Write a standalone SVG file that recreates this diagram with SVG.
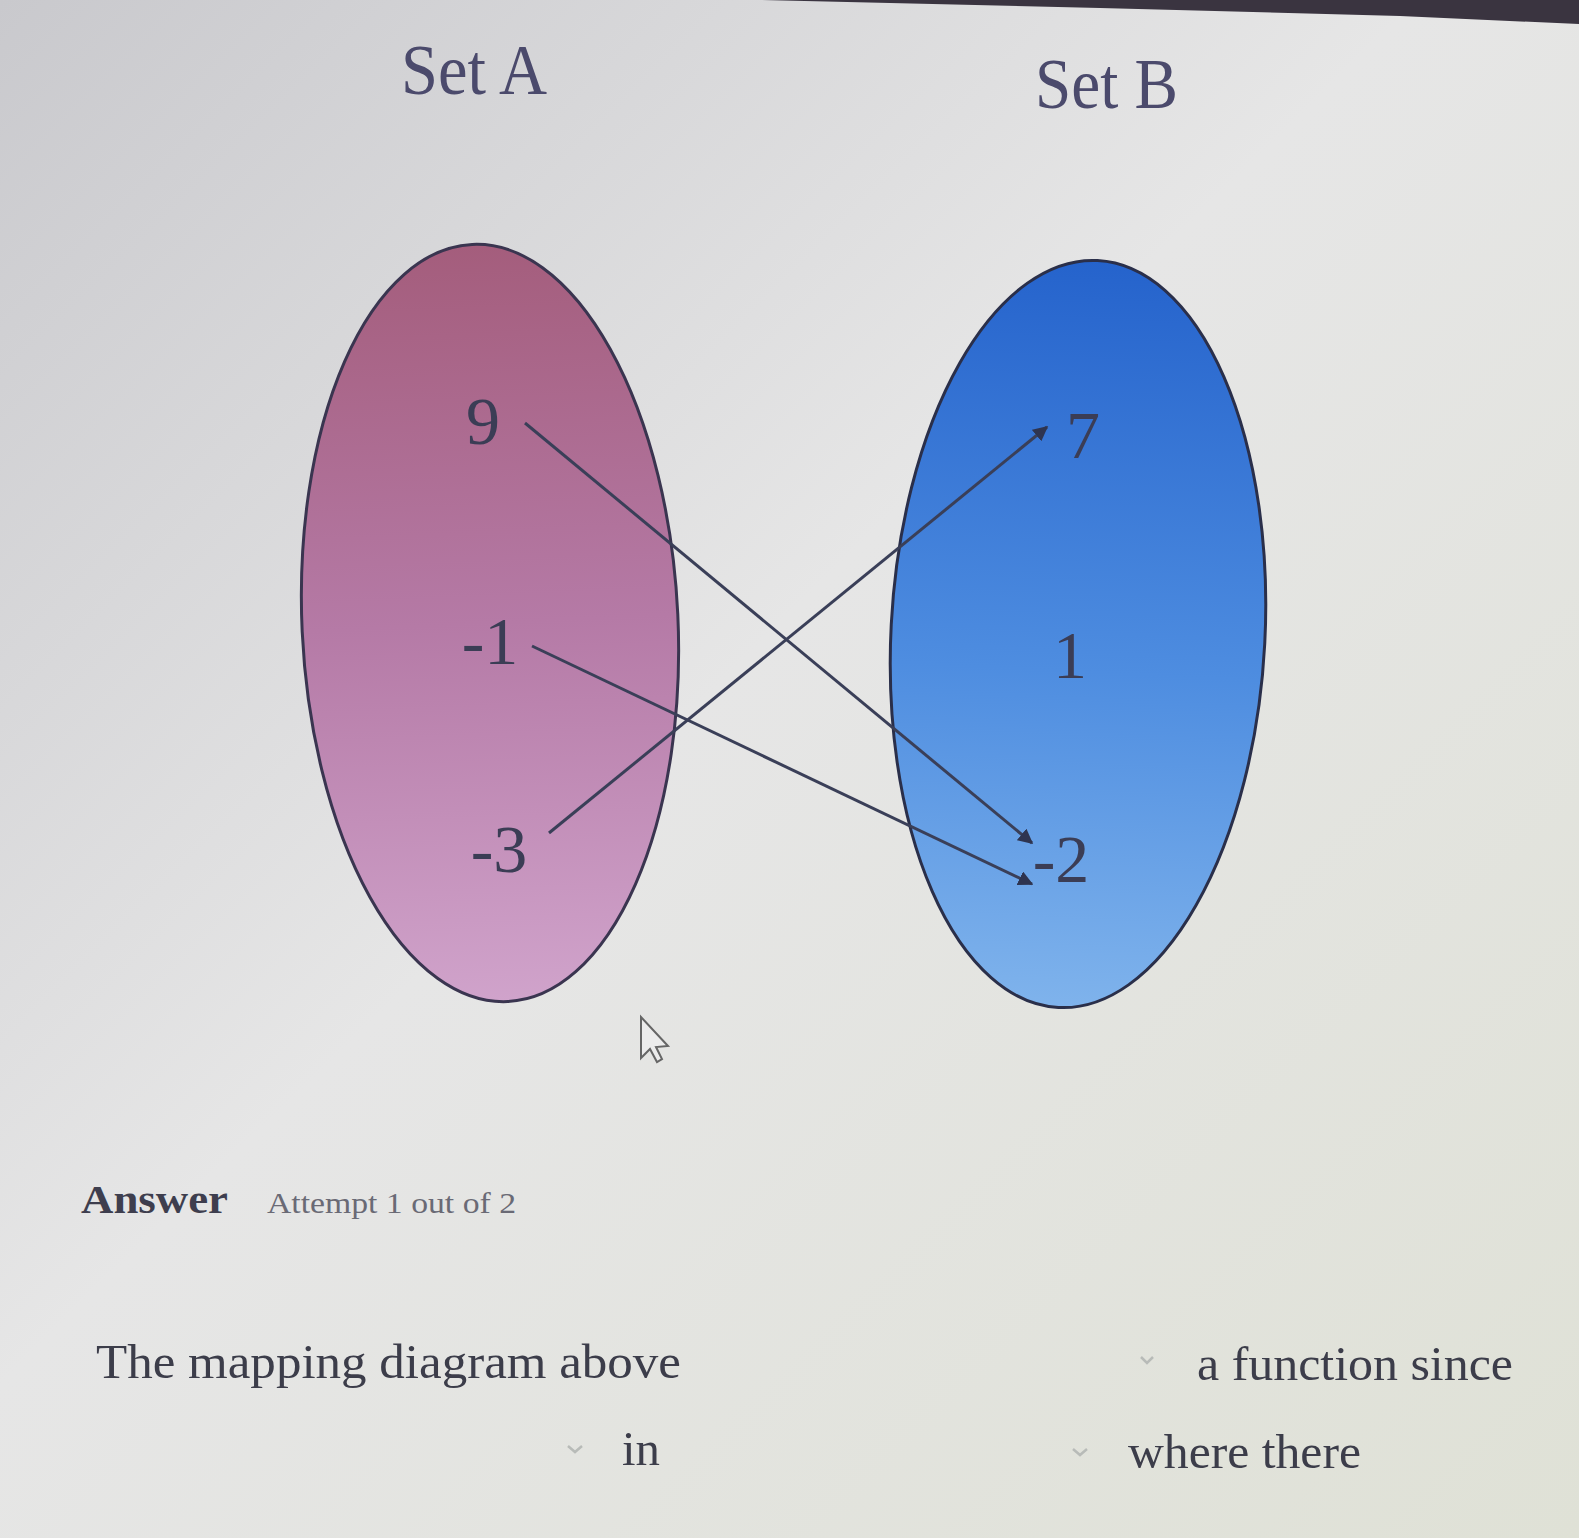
<svg xmlns="http://www.w3.org/2000/svg" width="1579" height="1538" viewBox="0 0 1579 1538">
<defs>
<linearGradient id="bg" x1="0" y1="0" x2="1" y2="1">
<stop offset="0" stop-color="#c9c9cd"/>
<stop offset="0.45" stop-color="#e6e6e6"/>
<stop offset="1" stop-color="#dfe1d6"/>
</linearGradient>
<linearGradient id="gA" x1="0" y1="0" x2="0" y2="1">
<stop offset="0" stop-color="#a45d7c"/>
<stop offset="0.5" stop-color="#b57aa6"/>
<stop offset="1" stop-color="#d0a3cb"/>
</linearGradient>
<linearGradient id="gB" x1="0" y1="0" x2="0" y2="1">
<stop offset="0" stop-color="#2563cc"/>
<stop offset="0.55" stop-color="#4e8de0"/>
<stop offset="1" stop-color="#7fb3ec"/>
</linearGradient>
<marker id="ah" viewBox="0 0 10 10" refX="9" refY="5" markerWidth="5" markerHeight="5" orient="auto" markerUnits="strokeWidth">
<path d="M0,0 L10,5 L0,10 z" fill="#2e3450"/>
</marker>
<style>
.set{font-family:"Liberation Serif","DejaVu Serif",serif;font-size:72px;fill:#4b4a6c}
.num{font-family:"Liberation Serif","DejaVu Serif",serif;font-size:68px;fill:#3b3d55}
.con{stroke:#3a3f58;stroke-width:3;fill:none;marker-end:url(#ah)}
.txt{font-family:"Liberation Serif","DejaVu Serif",serif;font-size:48px;fill:#3c3d4a}
.chev{stroke:#b8bbb8;stroke-width:2.5;fill:none}
</style>
</defs>
<rect width="1579" height="1538" fill="url(#bg)"/>
<path d="M760,0 L1579,0 L1579,24 L1400,16 L1100,8 Z" fill="#3a3440"/>
<text class="set" x="401" y="94" textLength="146" lengthAdjust="spacingAndGlyphs">Set A</text>
<text class="set" x="1035" y="108" textLength="143" lengthAdjust="spacingAndGlyphs">Set B</text>
<g id="setA">
<ellipse cx="490" cy="623" rx="188" ry="379" transform="rotate(-2.7 490 623)" fill="url(#gA)" stroke="#3a3550" stroke-width="3"/>
</g>
<g id="setB">
<ellipse cx="1078" cy="634" rx="187" ry="374" transform="rotate(3 1078 634)" fill="url(#gB)" stroke="#2a2f4a" stroke-width="3"/>
</g>
<g id="connectors">
<line class="con" x1="525" y1="423" x2="1032" y2="843"/>
<line class="con" x1="532" y1="646" x2="1032" y2="884"/>
<line class="con" x1="549" y1="833" x2="1047" y2="427"/>
</g>
<g id="n9"><text class="num" x="483" y="444" text-anchor="middle">9</text></g>
<g id="nm1"><text class="num" x="490" y="664" text-anchor="middle">-1</text></g>
<g id="nm3"><text class="num" x="499" y="872" text-anchor="middle">-3</text></g>
<g id="n7"><text class="num" x="1083" y="458" text-anchor="middle">7</text></g>
<g id="n1"><text class="num" x="1070" y="678" text-anchor="middle">1</text></g>
<g id="nm2"><text class="num" x="1061" y="882" text-anchor="middle">-2</text></g>
<path d="M641,1017 L641,1058 L650,1049 L657,1062 L662,1059 L656,1047 L668,1046 Z" fill="#ececec" stroke="#666" stroke-width="2"/>
<text x="81" y="1213" font-family="Liberation Serif,DejaVu Serif,serif" font-weight="bold" font-size="40" fill="#3e3e4e" textLength="147" lengthAdjust="spacingAndGlyphs">Answer</text>
<text x="267" y="1213" font-family="Liberation Serif,DejaVu Serif,serif" font-size="30" fill="#6a6a75" textLength="249" lengthAdjust="spacingAndGlyphs">Attempt 1 out of 2</text>
<text class="txt" x="96" y="1378" textLength="585" lengthAdjust="spacingAndGlyphs">The mapping diagram above</text>
<text class="txt" x="1197" y="1380" textLength="316" lengthAdjust="spacingAndGlyphs">a function since</text>
<text class="txt" x="622" y="1465" textLength="38" lengthAdjust="spacingAndGlyphs">in</text>
<text class="txt" x="1128" y="1468" textLength="233" lengthAdjust="spacingAndGlyphs">where there</text>
<path class="chev" d="M1141,1357 L1147,1363 L1153,1357"/>
<path class="chev" d="M568,1446 L575,1452 L582,1446"/>
<path class="chev" d="M1073,1449 L1080,1455 L1087,1449"/>
</svg>
